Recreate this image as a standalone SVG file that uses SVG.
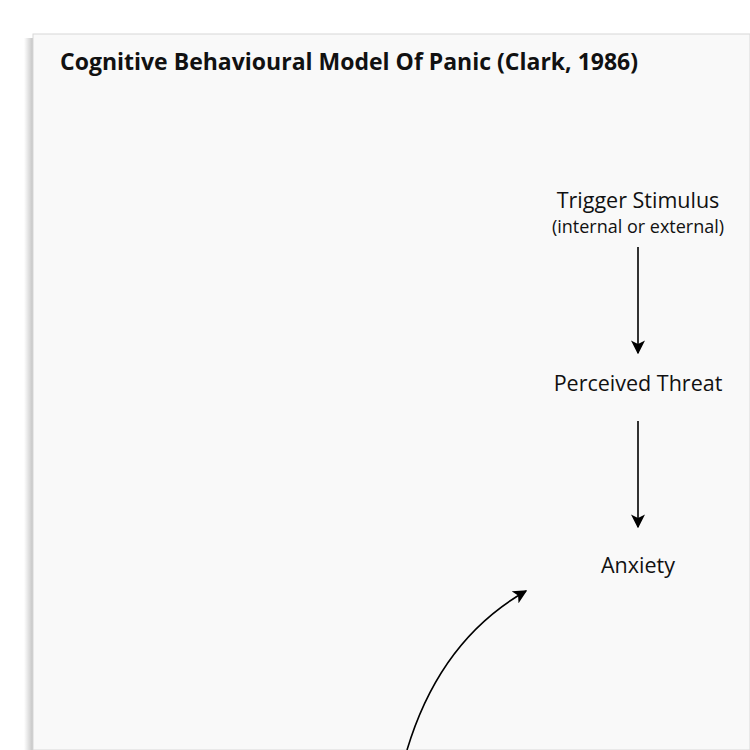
<svg xmlns="http://www.w3.org/2000/svg" width="750" height="750" viewBox="0 0 750 750">
<defs>
<linearGradient id="sh" x1="0" x2="1"><stop offset="0" stop-color="#fff"/><stop offset="1" stop-color="#bdbdbd"/></linearGradient>
<marker id="ah" viewBox="0 0 10 10" refX="9" refY="5" markerWidth="14" markerHeight="14" markerUnits="userSpaceOnUse" orient="auto"><path d="M0,0 L10,5 L0,10 L2.5,5 z" fill="#000"/></marker>
<style>.t{font-family:"Open Sans","Liberation Sans",sans-serif;fill:#111;text-anchor:middle}.c{stroke:#000;stroke-width:1.6;fill:none;marker-end:url(#ah)}</style>
</defs>
<rect width="750" height="750" fill="#fff"/>
<rect x="24" y="38" width="10" height="712" fill="url(#sh)"/>
<rect x="33" y="34" width="717" height="716" fill="#f9f9f9" stroke="#d8d8d8" stroke-width="1"/>
<text x="60" y="70" font-family="'Open Sans','Liberation Sans',sans-serif" font-weight="bold" font-size="23" fill="#111">Cognitive Behavioural Model Of Panic (Clark, 1986)</text>
<g id="trigger"><text class="t" x="638" y="208" font-size="21.5">Trigger Stimulus</text><text class="t" x="638" y="233" font-size="18">(internal or external)</text></g>
<g id="threat"><text class="t" x="638" y="391" font-size="21.5">Perceived Threat</text></g>
<g id="anxiety"><text class="t" x="638" y="573" font-size="21.5">Anxiety</text></g>
<g id="connectors">
<line class="c" x1="638" y1="247" x2="638" y2="353"/>
<line class="c" x1="638" y1="421" x2="638" y2="527"/>
<path class="c" d="M407,750 Q440,640 526,591"/>
</g>
</svg>
